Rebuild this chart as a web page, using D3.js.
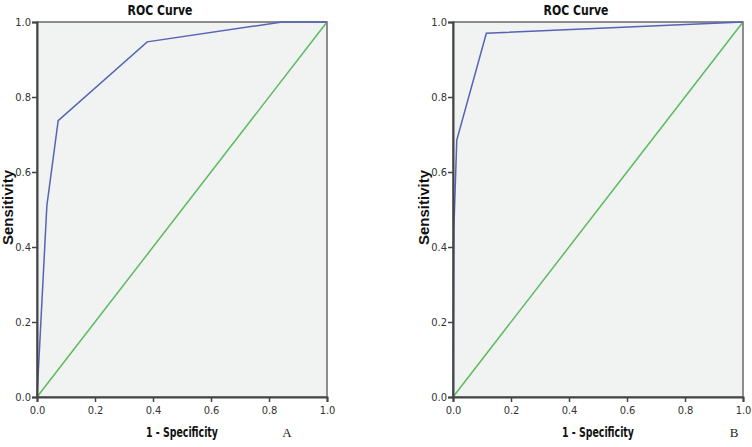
<!DOCTYPE html>
<html>
<head>
<meta charset="utf-8">
<script src="https://cdn.jsdelivr.net/npm/d3@7"></script>
<style>
  body { margin: 0; background: #fff; }
  svg { display: block; }
  .tick text { font-family: "Liberation Sans Narrow", "DejaVu Sans Condensed", sans-serif; font-size: 11px; fill: #333; }
</style>
</head>
<body>
<div id="chart"></div>
<script>
// ROC points, 1 - specificity vs sensitivity
const fprA = [0, 0.034, 0.073, 0.38, 0.845, 1];
const tprA = [0, 0.51, 0.737, 0.947, 1, 1];
const fprB = [0, 0.003, 0.013, 0.115, 1];
const tprB = [0, 0.45, 0.685, 0.97, 1];
const refLine = [0, 1];
const ticks = [0, 0.2, 0.4, 0.6, 0.8, 1.0];
const panelLetters = ['A', 'B'];

const width = 752, height = 447;
const svg = d3.select('#chart').append('svg')
  .attr('width', width)
  .attr('height', height);

// layout of the two panels
const panels = [
  { left: 37, fpr: fprA, tpr: tprA, letter: panelLetters[0], letterX: 250 },
  { left: 453, fpr: fprB, tpr: tprB, letter: panelLetters[1], letterX: 281 }
];
const plotW = 290, plotTop = 22, plotBottom = 397;
const narrow = '"Liberation Sans Narrow", "DejaVu Sans Condensed", sans-serif';

panels.forEach(p => {
  const x = d3.scaleLinear().domain([0, 1]).range([p.left, p.left + plotW]);
  const y = d3.scaleLinear().domain([0, 1]).range([plotBottom, plotTop]);
  const g = svg.append('g');

  // plot background + frame
  g.append('rect')
    .attr('x', x(0)).attr('y', y(1))
    .attr('width', x(1) - x(0)).attr('height', y(0) - y(1))
    .attr('fill', '#f1f2f2')
    .attr('stroke', '#6a6a6a')
    .attr('stroke-width', 1.5);

  const line = d3.line().x(d => x(d[0])).y(d => y(d[1]));

  // diagonal reference
  g.append('path')
    .datum(refLine.map(v => [v, v]))
    .attr('d', line)
    .attr('fill', 'none')
    .attr('stroke', '#5cba5e')
    .attr('stroke-width', 1.5);

  // ROC curve
  g.append('path')
    .datum(p.fpr.map((v, i) => [v, p.tpr[i]]))
    .attr('d', line)
    .attr('fill', 'none')
    .attr('stroke', '#5564b4')
    .attr('stroke-width', 1.5);

  const xAxis = g.append('g')
    .attr('transform', `translate(0,${plotBottom})`)
    .call(d3.axisBottom(x).tickValues(ticks).tickFormat(d3.format('.1f')).tickSize(5).tickPadding(4));
  const yAxis = g.append('g')
    .attr('transform', `translate(${p.left},0)`)
    .call(d3.axisLeft(y).tickValues(ticks).tickFormat(d3.format('.1f')).tickSize(5).tickPadding(1));
  [xAxis, yAxis].forEach(a => {
    a.select('.domain').attr('stroke', '#444').attr('stroke-width', 2);
    a.selectAll('.tick line').attr('stroke', '#444').attr('stroke-width', 1.5);
  });

  // title
  g.append('text')
    .attr('x', p.left + 123).attr('y', 15)
    .attr('text-anchor', 'middle')
    .attr('font-family', narrow)
    .attr('font-size', 14.5).attr('font-weight', 'bold')
    .attr('textLength', 65).attr('lengthAdjust', 'spacingAndGlyphs')
    .attr('fill', '#111')
    .text('ROC Curve');

  // x label
  g.append('text')
    .attr('x', p.left + plotW / 2).attr('y', 437)
    .attr('text-anchor', 'middle')
    .attr('font-family', narrow)
    .attr('font-size', 14).attr('font-weight', 'bold')
    .attr('textLength', 72).attr('lengthAdjust', 'spacingAndGlyphs')
    .attr('fill', '#111')
    .text('1 - Specificity');

  // y label
  g.append('text')
    .attr('transform', `translate(${p.left - 24},${(plotTop + plotBottom) / 2 - 2}) rotate(-90)`)
    .attr('text-anchor', 'middle')
    .attr('font-family', '"Liberation Sans", Arial, sans-serif')
    .attr('font-size', 14).attr('font-weight', 'bold')
    .attr('textLength', 75).attr('lengthAdjust', 'spacingAndGlyphs')
    .attr('fill', '#111')
    .text('Sensitivity');

  // panel letter
  g.append('text')
    .attr('x', p.left + p.letterX).attr('y', 437)
    .attr('text-anchor', 'middle')
    .attr('font-family', '"Liberation Serif", "DejaVu Serif", serif')
    .attr('font-size', 13)
    .attr('fill', '#222')
    .text(p.letter);
});
</script>
</body>
</html>
